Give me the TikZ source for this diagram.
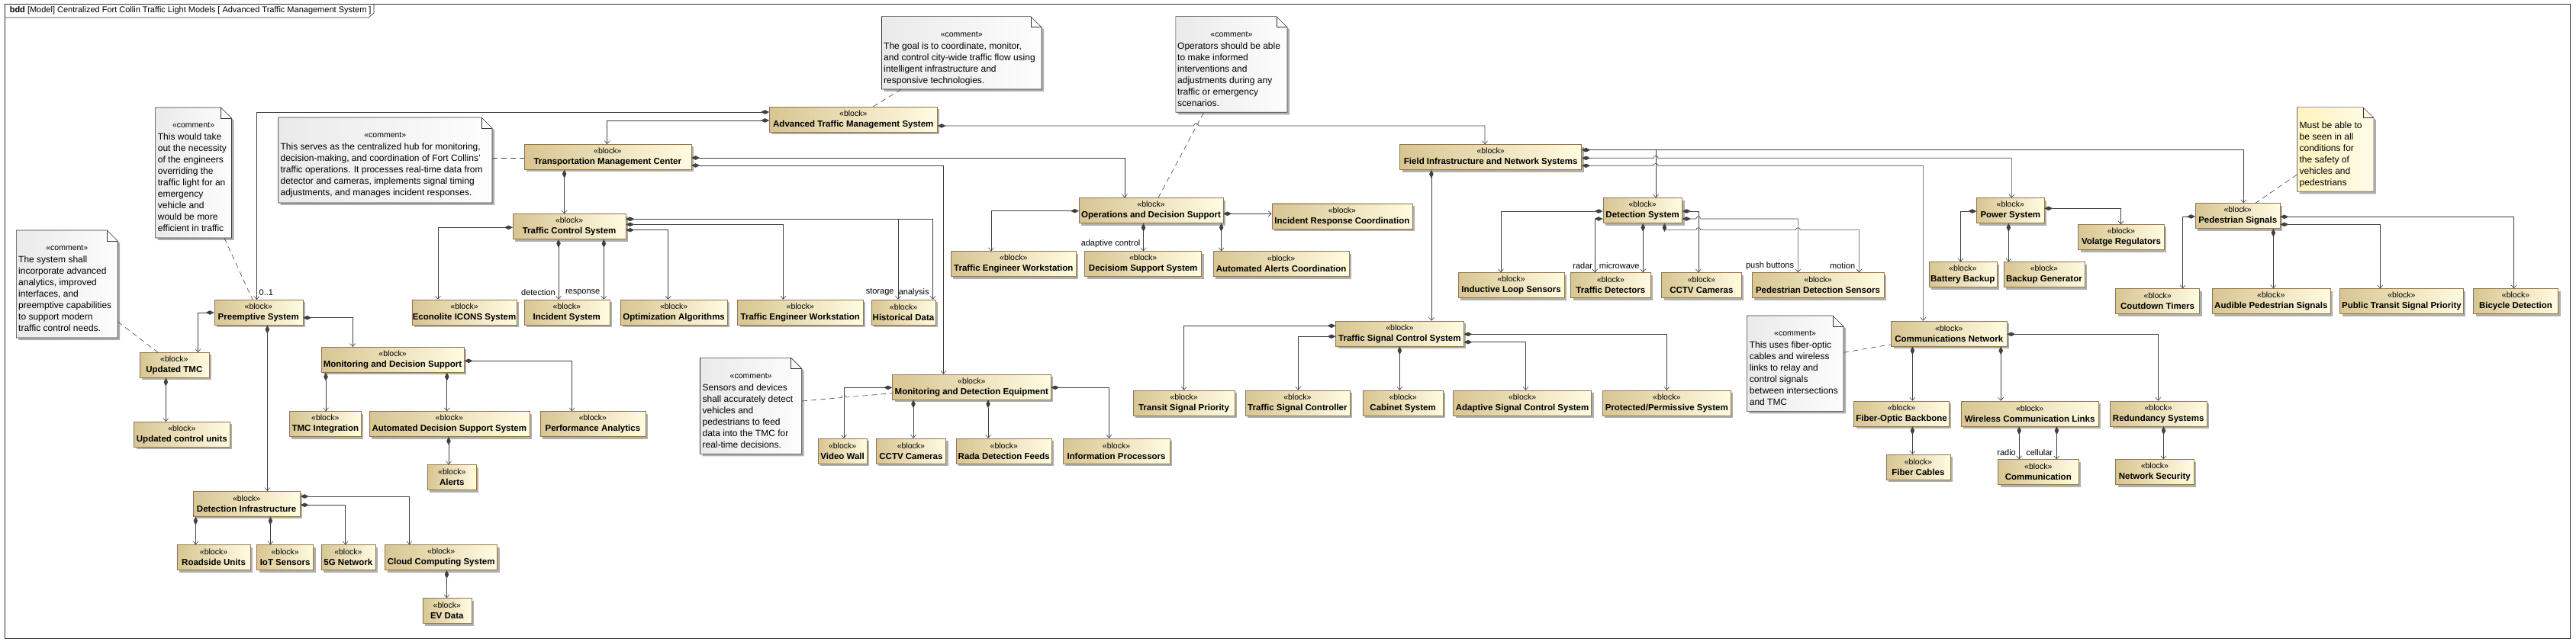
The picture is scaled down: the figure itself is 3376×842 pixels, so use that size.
\documentclass[tikz,border=0pt]{standalone}
\usepackage{fontspec}
\setmainfont{Liberation Sans}
\usetikzlibrary{arrows.meta,shadows,fit}

\definecolor{blockL}{RGB}{216,197,146}
\definecolor{blockR}{RGB}{255,252,226}
\definecolor{blockedge}{RGB}{150,118,72}
\definecolor{shadowgray}{RGB}{175,175,175}
\definecolor{linegray}{RGB}{64,64,64}
\definecolor{noteL}{RGB}{234,234,234}
\definecolor{noteR}{RGB}{253,253,253}
\definecolor{yellowL}{RGB}{255,243,190}
\definecolor{yellowR}{RGB}{255,251,232}

\tikzset{
  blk/.style = {draw=blockedge, line width=0.6pt, left color=blockL, right color=blockR,
                anchor=north west, minimum height=33pt, inner sep=0pt, align=center,
                font=\fontsize{11.5}{14}\selectfont,
                drop shadow={shadow xshift=3pt, shadow yshift=-3pt, fill=shadowgray, opacity=1}},
  comp/.style = {draw=linegray, line width=0.6pt,
                 arrows={Diamond[length=11pt,width=5.5pt]-Straight Barb[length=4pt,width=7pt]}},
  anchorline/.style = {draw=linegray, line width=0.6pt, dash pattern=on 7pt off 5pt},
  lbl/.style = {font=\fontsize{11}{13}\selectfont, inner sep=0pt},
  stereo/.style = {font=\fontsize{10.5}{13}\selectfont, inner sep=0pt},
  notetext/.style = {anchor=north west, inner sep=0pt, align=left, font=\fontsize{12}{15}\selectfont},
  commentbox/.style = {draw=black!80, line width=0.6pt, left color=noteL, right color=noteR},
  yellownote/.style = {draw=black!60, line width=0.6pt, left color=yellowL, right color=yellowR},
  notefold/.style = {draw=black!80, line width=0.6pt},
  shadowfill/.style = {fill=shadowgray}
}

% block text: stereotype + bold name
\newcommand{\blk}[1]{{\fontsize{10.5}{14}\selectfont «block»}\\\textbf{#1}}
% note with folded corner: name, x1, y1, x2, y2, style
\newcommand{\notebox}[6]{%
  \fill[shadowfill] (#2+3,#3+3) -- (#4-11,#3+3) -- (#4+3,#3+17) -- (#4+3,#5+3) -- (#2+3,#5+3) -- cycle;
  \path[#6] (#2,#3) -- (#4-14,#3) -- (#4,#3+14) -- (#4,#5) -- (#2,#5) -- cycle;
  \draw[notefold] (#4-14,#3) -- (#4-14,#3+14) -- (#4,#3+14);
  \node[fit={(#2,#3) (#4,#5)}, inner sep=0pt] (#1) {};
}

\begin{document}
\begin{tikzpicture}[x=1pt,y=-1pt]
	\def \hop{3pt}
	\useasboundingbox (0,0) rectangle (3376,842);

	% Frame
	\draw[black!80, line width=0.6pt] (6,5) rectangle (3368,837);
	\draw[black!80, line width=0.6pt] (6,23) -- (483,23) -- (490,17) -- (490,5);
	\node[anchor=west, inner sep=0pt, font=\fontsize{11}{13}\selectfont] (title) at (12.6,14) {\textbf{bdd} [Model] Centralized Fort Collin Traffic Light Models [ Advanced Traffic Management System ]};

	% Comments
	\notebox{ctake}{203.6}{141}{303.5}{312}{commentbox}
	\node[stereo] (ctakes) at (253.5,164.5) {«comment»};
	\node[notetext] (ctaket) at (206.7,175) {This would take\\out the necessity\\of the engineers\\overriding the\\traffic light for an\\emergency\\vehicle and\\would be more\\efficient in traffic};

	\notebox{csys}{21.4}{302}{154.2}{443}{commentbox}
	\node[stereo] (csyss) at (87.8,325.5) {«comment»};
	\node[notetext] (csyst) at (24,336) {The system shall\\incorporate advanced\\analytics, improved\\interfaces, and\\preemptive capabilities\\to support modern\\traffic control needs.};

	\notebox{chub}{364.7}{154}{645}{266}{commentbox}
	\node[stereo] (chubs) at (504.8,177.5) {«comment»};
	\node[notetext] (chubt) at (367.4,188) {This serves as the centralized hub for monitoring,\\decision-making, and coordination of Fort Collins'\\traffic operations. It processes real-time data from\\detector and cameras, implements signal timing\\adjustments, and manages incident responses.};

	\notebox{cgoal}{1155.5}{21.7}{1365}{117}{commentbox}
	\node[stereo] (cgoals) at (1260.2,45) {«comment»};
	\node[notetext] (cgoalt) at (1158,56) {The goal is to coordinate, monitor,\\and control city-wide traffic flow using\\intelligent infrastructure and\\responsive technologies.};

	\notebox{coper}{1540.8}{21.7}{1687}{147.3}{commentbox}
	\node[stereo] (copers) at (1613.9,45) {«comment»};
	\node[notetext] (copert) at (1543,56) {Operators should be able\\to make informed\\interventions and\\adjustments during any\\traffic or emergency\\scenarios.};

	\notebox{csens}{917.5}{469.3}{1050.7}{595.3}{commentbox}
	\node[stereo] (csenss) at (984.1,493) {«comment»};
	\node[notetext] (csenst) at (920.4,503.5) {Sensors and devices\\shall accurately detect\\vehicles and\\pedestrians to feed\\data into the TMC for\\real-time decisions.};

	\notebox{cfiber}{2289.3}{414}{2416}{539.3}{commentbox}
	\node[stereo] (cfibers) at (2352.6,437.5) {«comment»};
	\node[notetext] (cfibert) at (2292.6,448) {This uses fiber-optic\\cables and wireless\\links to relay and\\control signals\\between intersections\\and TMC};

	\notebox{cmust}{3010.5}{140.7}{3110.8}{251.3}{yellownote}
	\node[notetext] (cmustt) at (3013.4,160) {Must be able to\\be seen in all\\conditions for\\the safety of\\vehicles and\\pedestrians};

	% Blocks (left part)
	\node[blk, minimum width=220pt] (atms) at (1008,140) {\blk{Advanced Traffic Management System}};
	\node[blk, minimum width=219pt] (tmc) at (686.5,189) {\blk{Transportation Management Center}};
	\node[blk, minimum width=116pt] (preempt) at (280.5,393) {\blk{Preemptive System}};
	\node[blk, minimum width=91pt] (updtmc) at (182.5,462) {\blk{Updated TMC}};
	\node[blk, minimum width=125.5pt] (updcu) at (175.3,553) {\blk{Updated control units}};
	\node[blk, minimum width=187.5pt] (mds) at (420.5,455) {\blk{Monitoring and Decision Support}};
	\node[blk, minimum width=94pt] (tmcint) at (379,539.3) {\blk{TMC Integration}};
	\node[blk, minimum width=210pt] (adss) at (483.5,539.3) {\blk{Automated Decision Support System}};
	\node[blk, minimum width=138pt] (perf) at (707.6,539.3) {\blk{Performance Analytics}};
	\node[blk, minimum width=64pt] (alerts) at (560,609.3) {\blk{Alerts}};
	\node[blk, minimum width=140.5pt] (detinf) at (252.6,644) {\blk{Detection Infrastructure}};
	\node[blk, minimum width=96.5pt] (rsu) at (231.5,714.3) {\blk{Roadside Units}};
	\node[blk, minimum width=74pt] (iot) at (336.4,714.3) {\blk{IoT Sensors}};
	\node[blk, minimum width=71pt] (fiveg) at (420.6,714.3) {\blk{5G Network}};
	\node[blk, minimum width=147pt] (cloud) at (504.4,714.3) {\blk{Cloud Computing System}};
	\node[blk, minimum width=64pt] (evdata) at (553.5,784.3) {\blk{EV Data}};
	\node[blk, minimum width=137.5pt] (econ) at (539.5,392.7) {\blk{Econolite ICONS System}};
	\node[blk, minimum width=147.6pt] (tcs) at (672,280.3) {\blk{Traffic Control System}};
	\node[blk, minimum width=112pt] (incid) at (686.5,392.7) {\blk{Incident System}};
	\node[blk, minimum width=140.4pt] (optalg) at (812.6,392.7) {\blk{Optimization Algorithms}};
	\node[blk, minimum width=164.2pt] (tew1) at (966.4,392.7) {\blk{Traffic Engineer Workstation}};
	\node[blk, minimum width=84pt] (hist) at (1141.7,392.7) {\blk{Historical Data}};
	\node[blk, minimum width=207.4pt] (mde) at (1169.3,490.7) {\blk{Monitoring and Detection Equipment}};
	\node[blk, minimum width=64pt] (vwall) at (1071.8,574.7) {\blk{Video Wall}};
	\node[blk, minimum width=91.3pt] (cctv1) at (1148,574.7) {\blk{CCTV Cameras}};
	\node[blk, minimum width=125pt] (rada) at (1253,574.7) {\blk{Rada Detection Feeds}};
	\node[blk, minimum width=139.5pt] (infop) at (1393,574.7) {\blk{Information Processors}};
	\node[blk, minimum width=188.5pt] (ods) at (1414,259.3) {\blk{Operations and Decision Support}};
	\node[blk, minimum width=164pt] (tew2) at (1246,329.3) {\blk{Traffic Engineer Workstation}};
	\node[blk, minimum width=153pt] (dss) at (1421.4,329.3) {\blk{Decisiom Support System}};
	\node[blk, minimum width=178.5pt] (aac) at (1589.5,329.3) {\blk{Automated Alerts Coordination}};
	\node[blk, minimum width=184pt] (irc) at (1666.6,266.7) {\blk{Incident Response Coordination}};

	% Blocks (right part)
	\node[blk, minimum width=238pt] (fins) at (1834.4,189.3) {\blk{Field Infrastructure and Network Systems}};
	\node[blk, minimum width=167.4pt] (tscs) at (1750.4,420.7) {\blk{Traffic Signal Control System}};
	\node[blk, minimum width=133pt] (tsp) at (1484.7,511.7) {\blk{Transit Signal Priority}};
	\node[blk, minimum width=137pt] (tsc) at (1631.6,511.7) {\blk{Traffic Signal Controller}};
	\node[blk, minimum width=105.4pt] (cab) at (1785.6,511.7) {\blk{Cabinet System}};
	\node[blk, minimum width=180.8pt] (ascs) at (1904.4,511.7) {\blk{Adaptive Signal Control System}};
	\node[blk, minimum width=168pt] (ppsys) at (2100,511.7) {\blk{Protected/Permissive System}};
	\node[blk, minimum width=103.6pt] (ds) at (2100.6,259.3) {\blk{Detection System}};
	\node[blk, minimum width=138.6pt] (ils) at (1911,357.3) {\blk{Inductive Loop Sensors}};
	\node[blk, minimum width=104.5pt] (tdet) at (2058.3,357.3) {\blk{Traffic Detectors}};
	\node[blk, minimum width=104.5pt] (cctv2) at (2177.3,357.3) {\blk{CCTV Cameras}};
	\node[blk, minimum width=172.8pt] (pds) at (2295.8,357.3) {\blk{Pedestrian Detection Sensors}};
	\node[blk, minimum width=88.2pt] (ps) at (2590.4,259.3) {\blk{Power System}};
	\node[blk, minimum width=89pt] (batt) at (2527.5,343.3) {\blk{Battery Backup}};
	\node[blk, minimum width=106pt] (bgen) at (2625.6,343.3) {\blk{Backup Generator}};
	\node[blk, minimum width=112.7pt] (vreg) at (2723.3,294.3) {\blk{Volatge Regulators}};
	\node[blk, minimum width=110.6pt] (peds) at (2877.1,266.3) {\blk{Pedestrian Signals}};
	\node[blk, minimum width=110pt] (ctim) at (2772.3,378.3) {\blk{Coutdown Timers}};
	\node[blk, minimum width=155pt] (aps) at (2898.5,378.3) {\blk{Audible Pedestrian Signals}};
	\node[blk, minimum width=161.7pt] (ptsp) at (3066.3,378.3) {\blk{Public Transit Signal Priority}};
	\node[blk, minimum width=111pt] (bike) at (3241.2,378.3) {\blk{Bicycle Detection}};
	\node[blk, minimum width=151.5pt] (cn) at (2478.2,420.7) {\blk{Communications Network}};
	\node[blk, minimum width=124.6pt] (fob) at (2429.4,525.7) {\blk{Fiber-Optic Backbone}};
	\node[blk, minimum width=180.5pt] (wcl) at (2569.6,525.7) {\blk{Wireless Communication Links}};
	\node[blk, minimum width=126.2pt] (rs) at (2765.3,525.7) {\blk{Redundancy Systems}};
	\node[blk, minimum width=84.2pt] (fcab) at (2471.5,595.7) {\blk{Fiber Cables}};
	\node[blk, minimum width=105.2pt] (comm) at (2618.4,602.3) {\blk{Communication}};
	\node[blk, minimum width=102.3pt] (nsec) at (2772.4,602.3) {\blk{Network Security}};

	% Compositions: ATMS and TMC
	\draw[comp] (atms.west |- 0,147) -| (preempt.north -| 336.4,0);
	\draw[comp] (atms.west |- 0,158) -| (tmc.north -| 795.6,0);
	\draw[comp] (atms.east |- 0,165) -- (1564.7,165) arc[start angle=180, end angle=0, radius=\hop] -- (1946,165) -- (fins.north -| 1946,0);
	\draw[comp] (tmc.east |- 0,207) -| (ods.north -| 1474,0);
	\draw[comp] (tmc.east |- 0,217) -| (mde.north -| 1236.5,0);
	\draw[comp] (tmc.south -| 739.6,0) -- (tcs.north -| 739.6,0);

	% Traffic control system
	\draw[comp] (tcs.west |- 0,298.3) -| (econ.north -| 574,0);
	\draw[comp] (tcs.south -| 732,0) -- (incid.north -| 732,0);
	\draw[comp] (tcs.south -| 791.4,0) -- (incid.north -| 791.4,0);
	\draw[comp] (tcs.east |- 0,301.7) -| (optalg.north -| 875.6,0);
	\draw[comp] (tcs.east |- 0,294.3) -| (tew1.north -| 1026.5,0);
	\draw[comp] (tcs.east |- 0,287.3) -| (hist.north -| 1177,0);
	\draw[comp] (tcs.east |- 0,287.3) -| (hist.north -| 1222.5,0);

	% Preemptive system
	\draw[comp] (preempt.west |- 0,410) -| (updtmc.north -| 259.5,0);
	\draw[comp] (preempt.east |- 0,416.7) -| (mds.north -| 462.3,0);
	\draw[comp] (preempt.south -| 350.4,0) -- (detinf.north -| 350.4,0);
	\draw[comp] (updtmc.south -| 217.4,0) -- (updcu.north -| 217.4,0);
	\draw[comp] (mds.south -| 427,0) -- (tmcint.north -| 427,0);
	\draw[comp] (mds.south -| 585.7,0) -- (adss.north -| 585.7,0);
	\draw[comp] (mds.east |- 0,473.3) -| (perf.north -| 749.6,0);
	\draw[comp] (adss.south -| 588,0) -- (alerts.north -| 588,0);
	\draw[comp] (detinf.south -| 256.4,0) -- (rsu.north -| 256.4,0);
	\draw[comp] (detinf.south -| 354.4,0) -- (iot.north -| 354.4,0);
	\draw[comp] (detinf.east |- 0,662.3) -| (fiveg.north -| 452.7,0);
	\draw[comp] (detinf.east |- 0,651) -| (cloud.north -| 536.5,0);
	\draw[comp] (cloud.south -| 585.5,0) -- (evdata.north -| 585.5,0);

	% Monitoring and detection equipment
	\draw[comp] (mde.west |- 0,508.3) -| (vwall.north -| 1106,0);
	\draw[comp] (mde.south -| 1197,0) -- (cctv1.north -| 1197,0);
	\draw[comp] (mde.south -| 1295,0) -- (rada.north -| 1295,0);
	\draw[comp] (mde.east |- 0,508.3) -| (infop.north -| 1453.5,0);

	% Operations and decision support
	\draw[comp] (ods.west |- 0,276.7) -| (tew2.north -| 1299,0);
	\draw[comp] (ods.south -| 1498.5,0) -- (dss.north -| 1498.5,0);
	\draw[comp] (ods.south -| 1600.6,0) -- (aac.north -| 1600.6,0);
	\draw[comp] (ods.east |- 0,280.3) -- (irc.west |- 0,280.3);

	% Field infrastructure
	\draw[comp] (fins.south -| 1875.9,0) -- (tscs.north -| 1875.9,0);
	\draw[comp] (fins.east |- 0,196.7) -| (ds.north -| 2170,0);
	\draw[comp] (fins.east |- 0,196.7) -| (peds.north -| 2940.3,0);
	\draw[comp] (fins.east |- 0,207.3) -- (2167,207.3) arc[start angle=180, end angle=0, radius=\hop] -- (2636.3,207.3) -- (ps.north -| 2636.3,0);
	\draw[comp] (fins.east |- 0,217.3) -- (2167,217.3) arc[start angle=180, end angle=0, radius=\hop] -- (2520.3,217.3) -- (cn.north -| 2520.3,0);

	% Detection system
	\draw[comp] (ds.west |- 0,277) -| (ils.north -| 1967,0);
	\draw[comp] (ds.west |- 0,287) -| (tdet.north -| 2090.2,0);
	\draw[comp] (ds.south -| 2153.2,0) -- (tdet.north -| 2153.2,0);
	\draw[comp] (ds.east |- 0,277) -| (cctv2.north -| 2225.8,0);
	\draw[comp] (ds.east |- 0,287) -- (2222.8,287) arc[start angle=180, end angle=0, radius=\hop] -- (2356.3,287) -- (pds.north -| 2356.3,0);
	\draw[comp] (ds.south -| 2181.4,0) -- (2181.4,301.7) -- (2222.8,301.7) arc[start angle=180, end angle=0, radius=\hop] -- (2353.3,301.7) arc[start angle=180, end angle=0, radius=\hop] -- (2436.6,301.7) -- (pds.north -| 2436.6,0);

	% Power system
	\draw[comp] (ps.west |- 0,277) -| (batt.north -| 2569.4,0);
	\draw[comp] (ps.south -| 2632.3,0) -- (bgen.north -| 2632.3,0);
	\draw[comp] (ps.east |- 0,273.3) -| (vreg.north -| 2779.4,0);

	% Pedestrian signals
	\draw[comp] (peds.west |- 0,284) -| (ctim.north -| 2860.6,0);
	\draw[comp] (peds.south -| 2979.3,0) -- (aps.north -| 2979.3,0);
	\draw[comp] (peds.east |- 0,294.3) -| (ptsp.north -| 3119.3,0);
	\draw[comp] (peds.east |- 0,284.3) -| (bike.north -| 3294.5,0);

	% Communications network
	\draw[comp] (cn.south -| 2506.4,0) -- (fob.north -| 2506.4,0);
	\draw[comp] (cn.south -| 2622.2,0) -- (wcl.north -| 2622.2,0);
	\draw[comp] (cn.east |- 0,438.3) -| (rs.north -| 2828.4,0);
	\draw[comp] (fob.south -| 2506.4,0) -- (fcab.north -| 2506.4,0);
	\draw[comp] (wcl.south -| 2646.2,0) -- (comm.north -| 2646.2,0);
	\draw[comp] (wcl.south -| 2695.4,0) -- (comm.north -| 2695.4,0);
	\draw[comp] (rs.south -| 2835.5,0) -- (nsec.north -| 2835.5,0);

	% Traffic signal control system
	\draw[comp] (tscs.west |- 0,427.3) -| (tsp.north -| 1551.7,0);
	\draw[comp] (tscs.west |- 0,441.3) -| (tsc.north -| 1701.3,0);
	\draw[comp] (tscs.south -| 1834.3,0) -- (cab.north -| 1834.3,0);
	\draw[comp] (tscs.east |- 0,448.7) -| (ascs.north -| 1999.5,0);
	\draw[comp] (tscs.east |- 0,438.3) -| (ppsys.north);

	% Comment anchors
	\draw[anchorline] (ctake.south -| 294,0) -- (preempt.north -| 331,0);
	\draw[anchorline] (csys.east |- 0,422) -- (updtmc.north -| 206.7,0);
	\draw[anchorline] (chub.east |- 0,207) -- (tmc.west |- 0,207);
	\draw[anchorline] (cgoal.south -| 1181,0) -- (atms.north -| 1144,0);
	\draw[anchorline] (coper.south -| 1577.6,0) -- (ods.north -| 1518,0);
	\draw[anchorline] (csens.east |- 0,526) -- (1103,521.5) .. controls (1103,516.5) and (1109,516) .. (1109,521) -- (mde.west |- 0,515.7);
	\draw[anchorline] (cfiber.east |- 0,462.3) -- (cn.west |- 0,451.7);
	\draw[anchorline] (cmust.west |- 0,229) -- (peds.north -| 2956,0);

	% Role labels
	\node[lbl, anchor=west] (l01) at (339.5,383.3) {0..1};
	\node[lbl, anchor=east] (ldet) at (728,383.3) {detection};
	\node[lbl, anchor=east] (lresp) at (786.5,383.3) {response};
	\node[lbl, anchor=east] (lstor) at (1171.7,383.3) {storage};
	\node[lbl, anchor=east] (lanal) at (1217.7,383.3) {analysis};
	\node[lbl, anchor=east] (ladapt) at (1494.6,320) {adaptive control};
	\node[lbl, anchor=east] (lradar) at (2087.3,348.3) {radar};
	\node[lbl, anchor=east] (lmicro) at (2148.7,348.3) {microwave};
	\node[lbl, anchor=east] (lpush) at (2351.2,348.3) {push buttons};
	\node[lbl, anchor=east] (lmotion) at (2431.4,348.3) {motion};
	\node[lbl, anchor=east] (lradio) at (2642,593.3) {radio};
	\node[lbl, anchor=east] (lcell) at (2690.3,593.3) {cellular};
\end{tikzpicture}
\end{document}
